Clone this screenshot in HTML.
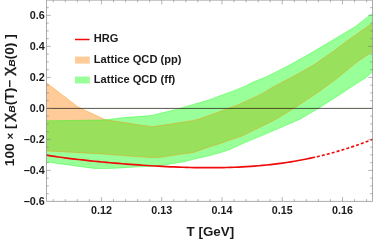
<!DOCTYPE html>
<html><head><meta charset="utf-8"><style>
html,body{margin:0;padding:0;background:#fff;}
svg{display:block;will-change:transform;font-family:"Liberation Sans",sans-serif;font-weight:bold;}
</style></head><body>
<svg width="373" height="242" viewBox="0 0 373 242">
<rect width="373" height="242" fill="#fff"/>
<polygon points="46.5,82.8 78.1,107 105.4,119.8 124,122.5 150,126.4 152,126.7 164,125.1 193.5,120.4 200.4,118.5 218,112.3 226.3,109.0 237,105.2 245,101.7 262.5,93.5 271.7,87.8 290,78.0 295,75.5 314,64.8 333,51.4 347.7,40.4 372.5,23 372.5,51.6 357,62 335,80 316,93.7 293,108.9 273.7,120.5 242,136.1 230,140.1 220.9,143.3 207.2,147.7 193.6,152.5 180,154.3 171,155.8 160,157.3 151.3,157.5 135,156.6 124,155.6 94,153.4 46.5,150.9" fill="rgb(255,128,0)" fill-opacity="0.4"/>
<polygon points="46.5,120.8 100,120 105.4,119.8 124,117.6 148,115.8 153.4,115.1 178,108.9 195,103.9 208.6,100.1 222.2,94.9 235.9,89.9 245,86.2 253.6,81.8 266,76.9 280.9,69.4 290,64.8 313,51.8 355,26.8 372.5,13.2 372.5,72.0 365.6,77.9 357,83.3 339.3,95.0 317.8,108.7 300,119.2 265.6,134.1 245,142.6 230,149.4 220.9,152.6 207.2,156.2 193.6,159.3 185,161.6 162,165.5 150,166.3 135,167.0 117,168.2 104,168.5 94,168.4 46.5,162" fill="rgb(0,255,0)" fill-opacity="0.4"/>
<polyline points="46.5,82.8 78.1,107 105.4,119.8 124,122.5 150,126.4 152,126.7 164,125.1 193.5,120.4 200.4,118.5 218,112.3 226.3,109.0 237,105.2 245,101.7 262.5,93.5 271.7,87.8 290,78.0 295,75.5 314,64.8 333,51.4 347.7,40.4 372.5,23" fill="none" stroke="rgb(255,140,0)" stroke-opacity="0.55" stroke-width="0.7"/>
<polyline points="46.5,150.9 94,153.4 124,155.6 135,156.6 151.3,157.5 160,157.3 171,155.8 180,154.3 193.6,152.5 207.2,147.7 220.9,143.3 230,140.1 242,136.1 273.7,120.5 293,108.9 316,93.7 335,80 357,62 372.5,51.6" fill="none" stroke="rgb(255,140,0)" stroke-opacity="0.55" stroke-width="0.7"/>
<polyline points="46.5,120.8 100,120 105.4,119.8 124,117.6 148,115.8 153.4,115.1 178,108.9 195,103.9 208.6,100.1 222.2,94.9 235.9,89.9 245,86.2 253.6,81.8 266,76.9 280.9,69.4 290,64.8 313,51.8 355,26.8 372.5,13.2" fill="none" stroke="rgb(0,255,0)" stroke-opacity="0.5" stroke-width="0.7"/>
<polyline points="46.5,162 94,168.4 104,168.5 117,168.2 135,167.0 150,166.3 162,165.5 185,161.6 193.6,159.3 207.2,156.2 220.9,152.6 230,149.4 245,142.6 265.6,134.1 300,119.2 317.8,108.7 339.3,95.0 357,83.3 365.6,77.9 372.5,72.0" fill="none" stroke="rgb(0,255,0)" stroke-opacity="0.5" stroke-width="0.7"/>
<path d="M46.5,108.4H372.5" stroke="#241c14" stroke-width="0.75" fill="none"/>
<polyline points="46.5,155.21 50.5,155.82 54.5,156.41 58.5,156.98 62.5,157.52 66.5,158.04 70.5,158.55 74.5,159.04 78.5,159.51 82.5,159.96 86.5,160.4 90.5,160.82 94.5,161.23 98.5,161.63 102.5,162.02 106.5,162.39 110.5,162.75 114.5,163.1 118.5,163.44 122.5,163.77 126.5,164.09 130.5,164.4 134.5,164.69 138.5,164.97 142.5,165.25 146.5,165.51 150.5,165.76 154.5,165.99 158.5,166.22 162.5,166.43 166.5,166.62 170.5,166.81 174.5,166.97 178.5,167.13 182.5,167.26 186.5,167.38 190.5,167.49 194.5,167.57 198.5,167.64 202.5,167.68 206.5,167.71 210.5,167.71 214.5,167.69 218.5,167.65 222.5,167.59 226.5,167.5 230.5,167.38 234.5,167.24 238.5,167.07 242.5,166.87 246.5,166.64 250.5,166.38 254.5,166.08 258.5,165.76 262.5,165.4 266.5,165.01 270.5,164.58 274.5,164.12 278.5,163.61 282.5,163.07 286.5,162.5 290.5,161.88 294.5,161.22 298.5,160.52 302.5,159.77 306.5,158.99 310.5,158.16 314.5,157.29 315,157.17" fill="none" stroke="rgb(240,10,10)" stroke-width="1.7" stroke-linejoin="round"/>
<polyline points="315.0,157.17 319.0,156.25 323.0,155.28 327.0,154.26 331.0,153.2 335.0,152.09 339.0,150.93 343.0,149.73 347.0,148.47 351.0,147.17 355.0,145.82 359.0,144.42 363.0,142.97 367.0,141.47 371.0,139.93 372.5,139.33" fill="none" stroke="rgb(240,10,10)" stroke-width="1.7" stroke-dasharray="3,2.1" stroke-dashoffset="-1.9"/>
<path d="M46.5,0.15H372.5V201.4H46.5Z" fill="none" stroke="#878787" stroke-width="0.7"/>
<path d="M53.24,201.4v-2.3M53.24,0.15v2.3M65.29,201.4v-2.3M65.29,0.15v2.3M77.35,201.4v-2.3M77.35,0.15v2.3M89.40,201.4v-2.3M89.40,0.15v2.3M101.45,201.4v-4.3M101.45,0.15v4.3M113.50,201.4v-2.3M113.50,0.15v2.3M125.55,201.4v-2.3M125.55,0.15v2.3M137.61,201.4v-2.3M137.61,0.15v2.3M149.66,201.4v-2.3M149.66,0.15v2.3M161.71,201.4v-4.3M161.71,0.15v4.3M173.76,201.4v-2.3M173.76,0.15v2.3M185.81,201.4v-2.3M185.81,0.15v2.3M197.87,201.4v-2.3M197.87,0.15v2.3M209.92,201.4v-2.3M209.92,0.15v2.3M221.97,201.4v-4.3M221.97,0.15v4.3M234.02,201.4v-2.3M234.02,0.15v2.3M246.07,201.4v-2.3M246.07,0.15v2.3M258.13,201.4v-2.3M258.13,0.15v2.3M270.18,201.4v-2.3M270.18,0.15v2.3M282.23,201.4v-4.3M282.23,0.15v4.3M294.28,201.4v-2.3M294.28,0.15v2.3M306.33,201.4v-2.3M306.33,0.15v2.3M318.39,201.4v-2.3M318.39,0.15v2.3M330.44,201.4v-2.3M330.44,0.15v2.3M342.49,201.4v-4.3M342.49,0.15v4.3M354.54,201.4v-2.3M354.54,0.15v2.3M366.59,201.4v-2.3M366.59,0.15v2.3M46.5,193.65h2.3M372.5,193.65h-2.3M46.5,185.90h2.3M372.5,185.90h-2.3M46.5,178.15h2.3M372.5,178.15h-2.3M46.5,170.40h4.3M372.5,170.40h-4.3M46.5,162.65h2.3M372.5,162.65h-2.3M46.5,154.90h2.3M372.5,154.90h-2.3M46.5,147.15h2.3M372.5,147.15h-2.3M46.5,139.40h4.3M372.5,139.40h-4.3M46.5,131.65h2.3M372.5,131.65h-2.3M46.5,123.90h2.3M372.5,123.90h-2.3M46.5,116.15h2.3M372.5,116.15h-2.3M46.5,108.40h4.3M372.5,108.40h-4.3M46.5,100.65h2.3M372.5,100.65h-2.3M46.5,92.90h2.3M372.5,92.90h-2.3M46.5,85.15h2.3M372.5,85.15h-2.3M46.5,77.40h4.3M372.5,77.40h-4.3M46.5,69.65h2.3M372.5,69.65h-2.3M46.5,61.90h2.3M372.5,61.90h-2.3M46.5,54.15h2.3M372.5,54.15h-2.3M46.5,46.40h4.3M372.5,46.40h-4.3M46.5,38.65h2.3M372.5,38.65h-2.3M46.5,30.90h2.3M372.5,30.90h-2.3M46.5,23.15h2.3M372.5,23.15h-2.3M46.5,15.40h4.3M372.5,15.40h-4.3M46.5,7.65h2.3M372.5,7.65h-2.3" fill="none" stroke="#777" stroke-width="0.55"/>
<g font-size="10.3" fill="#1a1a1a"><text x="44.8" y="19.1" text-anchor="end" textLength="15.1" lengthAdjust="spacingAndGlyphs">0.6</text><text x="44.8" y="50.1" text-anchor="end" textLength="15.1" lengthAdjust="spacingAndGlyphs">0.4</text><text x="44.8" y="81.1" text-anchor="end" textLength="15.1" lengthAdjust="spacingAndGlyphs">0.2</text><text x="44.8" y="112.1" text-anchor="end" textLength="15.1" lengthAdjust="spacingAndGlyphs">0.0</text><text x="44.8" y="143.1" text-anchor="end" textLength="21.3" lengthAdjust="spacingAndGlyphs">−0.2</text><text x="44.8" y="174.1" text-anchor="end" textLength="21.3" lengthAdjust="spacingAndGlyphs">−0.4</text><text x="44.8" y="205.1" text-anchor="end" textLength="21.3" lengthAdjust="spacingAndGlyphs">−0.6</text><text x="101.5" y="213.7" text-anchor="middle" textLength="20.9" lengthAdjust="spacingAndGlyphs">0.12</text><text x="161.7" y="213.7" text-anchor="middle" textLength="20.9" lengthAdjust="spacingAndGlyphs">0.13</text><text x="222.0" y="213.7" text-anchor="middle" textLength="20.9" lengthAdjust="spacingAndGlyphs">0.14</text><text x="282.2" y="213.7" text-anchor="middle" textLength="20.9" lengthAdjust="spacingAndGlyphs">0.15</text><text x="342.5" y="213.7" text-anchor="middle" textLength="20.9" lengthAdjust="spacingAndGlyphs">0.16</text></g>
<text x="210.4" y="236.1" font-size="13.4" text-anchor="middle" fill="#1a1a1a">T [GeV]</text>
<g transform="translate(13.6,100.2) rotate(-90) scale(1.09,1)"><text x="0" y="0" font-size="12.6" text-anchor="middle" fill="#1a1a1a" xml:space="preserve">100 <tspan font-size="10.4">×</tspan> [ <tspan font-size="15.5" dy="-1" dx="-0.9" font-weight="normal" stroke="#1a1a1a" stroke-width="0.45">χ</tspan><tspan font-size="9.5" font-style="italic" dy="2.5">B</tspan><tspan dy="-1.5">(T)− </tspan><tspan font-size="15.5" dy="-1" dx="0.2" font-weight="normal" stroke="#1a1a1a" stroke-width="0.45">χ</tspan><tspan font-size="9.5" font-style="italic" dy="2.5">B</tspan><tspan dy="-1.5">(0) ]</tspan></text></g>
<path d="M75,39.5H89.6" stroke="rgb(240,10,10)" stroke-width="1.5"/>
<rect x="75" y="56.6" width="14.8" height="7" fill="rgb(255,128,0)" fill-opacity="0.4"/>
<rect x="75" y="76.5" width="14.8" height="7" fill="rgb(0,255,0)" fill-opacity="0.4"/>
<g font-size="10.2" fill="#1a1a1a">
<text x="93.8" y="41.7" textLength="24.7" lengthAdjust="spacingAndGlyphs">HRG</text>
<text x="93.8" y="62.6" textLength="87.7" lengthAdjust="spacingAndGlyphs">Lattice QCD (pp)</text>
<text x="93.8" y="82.6" textLength="81.5" lengthAdjust="spacingAndGlyphs">Lattice QCD (ff)</text>
</g>
</svg>
</body></html>
